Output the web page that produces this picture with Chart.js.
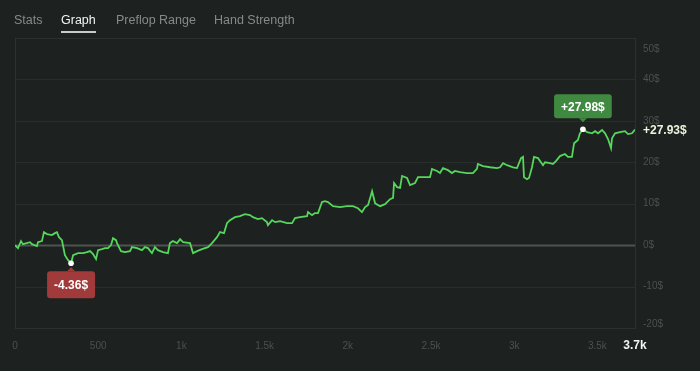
<!DOCTYPE html>
<html>
<head>
<meta charset="utf-8">
<script src="https://cdn.jsdelivr.net/npm/chart.js@4"></script>
<style>
  html, body { margin: 0; padding: 0; background: #1d211f; }
  body { width: 700px; height: 371px; position: relative; overflow: hidden; font-family: "Liberation Sans", Arial, sans-serif; }
  nav a { position: absolute; top: 10px; font-size: 12.5px; color: #868b88; text-decoration: none; line-height: 20px; z-index: 2; }
  nav a.active { color: #f2f4f3; }
  nav a.active::after { content: ""; position: absolute; left: 0; right: 0; top: 21px; height: 2px; background: #c9cdca; }
  #wrap { position: absolute; left: 0; top: 0; width: 700px; height: 371px; }
</style>
</head>
<body>
<nav>
  <a href="#" style="left:14px">Stats</a>
  <a href="#" class="active" style="left:61px">Graph</a>
  <a href="#" style="left:116px">Preflop Range</a>
  <a href="#" style="left:214px">Hand Strength</a>
</nav>
<div id="wrap"><canvas id="grafico"></canvas></div>
<script>
// hands played
const hands = [0, 18, 36, 48, 90, 102, 132, 138, 162, 174, 192, 222, 240, 252, 264, 282, 300, 319, 337,
  349, 379, 409, 433, 451, 469, 487, 499, 523, 541, 559, 577, 589, 607, 613, 637, 661, 691, 703, 733,
  763, 781, 799, 823, 841, 859, 889, 919, 931, 949, 974, 992, 1010, 1052, 1070, 1094, 1124, 1160,
  1184, 1214, 1232, 1256, 1274, 1292, 1322, 1352, 1382, 1412, 1430, 1460, 1484, 1514, 1520, 1545,
  1563, 1593, 1635, 1665, 1683, 1713, 1755, 1761, 1785, 1803, 1821, 1845, 1863, 1881, 1911, 1953,
  1995, 2031, 2061, 2085, 2104, 2122, 2146, 2164, 2194, 2224, 2254, 2272, 2278, 2296, 2314, 2326,
  2356, 2374, 2404, 2422, 2464, 2494, 2506, 2536, 2554, 2572, 2602, 2626, 2644, 2674, 2716, 2752,
  2776, 2782, 2812, 2855, 2897, 2915, 2933, 2957, 2993, 3017, 3041, 3053, 3059, 3077, 3089, 3107,
  3119, 3143, 3173, 3185, 3215, 3233, 3251, 3275, 3305, 3323, 3347, 3360, 3383, 3395, 3413, 3438,
  3468, 3486, 3504, 3528, 3546, 3564, 3582, 3588, 3606, 3636, 3666, 3684, 3708, 3726];
// winnings in $
const winnings = [0, -0.72, 0.97, 0.24, 0.72, 0.24, -0.24, 0.72, 0.97, 3.14, 2.66, 2.42, 2.9, 3.14, 1.93, 1.21, -2.42, -3.62, -4.36,
  -2.42, -1.93, -1.93, -1.69, -1.45, -2.17, -3.38, -1.21, -0.97, -0.72, -0.72, 0, 1.69, 1.21, 0.48, -1.45, -1.69, -1.45, -0.48, -0.72,
  -1.21, -0.48, -0.72, -1.93, -0.48, -1.21, -1.69, -1.93, 0.48, 0.97, 0.48, 1.45, 0.72, 0.48, -1.93, -1.45, -0.97, -0.48,
  0.48, 1.93, 3.14, 2.9, 5.31, 6.04, 6.76, 7.0, 7.49, 7.25, 6.76, 6.28, 6.52, 5.55, 4.83, 6.04,
  5.55, 5.8, 5.31, 5.31, 6.52, 6.76, 7.0, 7.97, 7.25, 7.73, 7.73, 10.4, 10.6, 10.4, 9.4, 9.2,
  9.4, 9.4, 8.9, 7.97, 9.2, 9.7, 13.0, 10.1, 9.4, 9.9, 11.1, 11.4, 15.0, 14.0, 13.8, 16.7,
  16.2, 14.5, 15.0, 16.4, 16.4, 16.4, 18.4, 17.9, 17.4, 18.6, 18.1, 17.4, 17.9, 17.6, 17.4, 17.4,
  18.4, 19.6, 19.1, 18.8, 18.6, 18.8, 19.8, 19.3, 18.8, 18.6, 21.0, 21.3, 16.4, 15.9, 16.2, 18.8,
  21.3, 21.0, 19.3, 20.0, 19.8, 19.6, 20.3, 21.5, 22.0, 21.3, 21.3, 24.6, 25.4, 27.0, 27.98, 27.3,
  27.0, 27.5, 27.0, 27.8, 27.0, 25.6, 23.4, 25.8, 27.0, 27.3, 27.5, 26.8, 27.0, 27.93];

const yTicks = [50, 40, 30, 20, 10, 0, -10, -20];
const xTicks = [0, 500, 1000, 1500, 2000, 2500, 3000, 3500];

function fmtHands(v) {
  return v >= 1000 ? (Math.round(v / 100) / 10) + 'k' : String(v);
}

const pontos = hands.map((h, i) => ({ x: h, y: winnings[i] }));

const desenho = {
  id: 'desenho',
  beforeDatasetsDraw(chart) {
    const ctx = chart.ctx;
    const a = chart.chartArea;
    const sy = chart.scales.y;
    ctx.save();
    // linhas de grade
    yTicks.forEach(v => {
      const y = Math.round(sy.getPixelForValue(v)) + 0.5;
      ctx.strokeStyle = v === 0 ? '#4f5451' : '#292e2b';
      ctx.lineWidth = v === 0 ? 2 : 1;
      ctx.beginPath();
      ctx.moveTo(a.left, y);
      ctx.lineTo(a.right, y);
      ctx.stroke();
    });
    ctx.strokeStyle = '#2c312e';
    ctx.lineWidth = 1;
    ctx.strokeRect(a.left + 0.5, a.top + 0.5, a.right - a.left, a.bottom - a.top);
    ctx.restore();
  },
  afterDraw(chart) {
    const ctx = chart.ctx;
    const a = chart.chartArea;
    const sx = chart.scales.x;
    const sy = chart.scales.y;
    ctx.save();
    // rótulos do eixo y
    ctx.font = '10px "Liberation Sans", sans-serif';
    ctx.fillStyle = '#4c514e';
    ctx.textAlign = 'left';
    ctx.textBaseline = 'middle';
    yTicks.forEach(v => {
      let y = sy.getPixelForValue(v);
      y = Math.min(Math.max(y, a.top + 11), a.bottom - 4);
      ctx.fillText(v + '$', a.right + 8, y);
    });
    // rótulos do eixo x
    ctx.textAlign = 'center';
    xTicks.forEach(v => {
      ctx.fillText(fmtHands(v), sx.getPixelForValue(v), a.bottom + 18);
    });
    const lastX = hands[hands.length - 1];
    const lastY = winnings[winnings.length - 1];
    ctx.font = 'bold 12px "Liberation Sans", sans-serif';
    ctx.fillStyle = '#f4f6f5';
    ctx.fillText(fmtHands(lastX), sx.getPixelForValue(lastX), a.bottom + 18);
    // último valor
    ctx.fillStyle = '#eef3dc';
    ctx.textAlign = 'left';
    ctx.fillText('+' + lastY.toFixed(2) + '$', a.right + 8, sy.getPixelForValue(lastY) + 1);

    // marcadores de mínimo / máximo
    const maxV = Math.max(...winnings);
    const minV = Math.min(...winnings);
    const iMax = winnings.indexOf(maxV);
    const iMin = winnings.indexOf(minV);
    function etiqueta(i, texto, cor, acima) {
      const px = sx.getPixelForValue(hands[i]);
      const py = sy.getPixelForValue(winnings[i]);
      ctx.font = 'bold 12px "Liberation Sans", sans-serif';
      const w = ctx.measureText(texto).width + 14;
      const h = acima ? 24 : 27;
      const top = acima ? py - 11 - h : py + 8;
      ctx.fillStyle = cor;
      ctx.beginPath();
      ctx.roundRect(px - w / 2, top, w, h, 3);
      ctx.fill();
      ctx.beginPath();
      if (acima) {
        ctx.moveTo(px - 4, top + h);
        ctx.lineTo(px, top + h + 4);
        ctx.lineTo(px + 4, top + h);
      } else {
        ctx.moveTo(px - 4, top);
        ctx.lineTo(px, top - 4);
        ctx.lineTo(px + 4, top);
      }
      ctx.fill();
      ctx.fillStyle = '#ffffff';
      ctx.textAlign = 'center';
      ctx.textBaseline = 'middle';
      ctx.fillText(texto, px, top + h / 2 + 1);
      ctx.beginPath();
      ctx.arc(px, py, 2.8, 0, Math.PI * 2);
      ctx.fill();
    }
    etiqueta(iMax, '+' + maxV.toFixed(2) + '$', '#3f8a40', true);
    etiqueta(iMin, minV.toFixed(2) + '$', '#a13a3a', false);
    ctx.restore();
  }
};

new Chart(document.getElementById('grafico').getContext('2d'), {
  type: 'line',
  data: {
    datasets: [{
      data: pontos,
      borderColor: '#55d65c',
      borderWidth: 1.8,
      pointRadius: 0,
      tension: 0
    }]
  },
  options: {
    responsive: true,
    maintainAspectRatio: false,
    animation: false,
    layout: { padding: { left: 15, right: 65, top: 38, bottom: 43 } },
    scales: {
      x: { type: 'linear', min: 0, max: 3726, display: false },
      y: { min: -20, max: 50, display: false }
    },
    plugins: {
      legend: { display: false },
      tooltip: { enabled: false }
    }
  },
  plugins: [desenho]
});
</script>
</body>
</html>
